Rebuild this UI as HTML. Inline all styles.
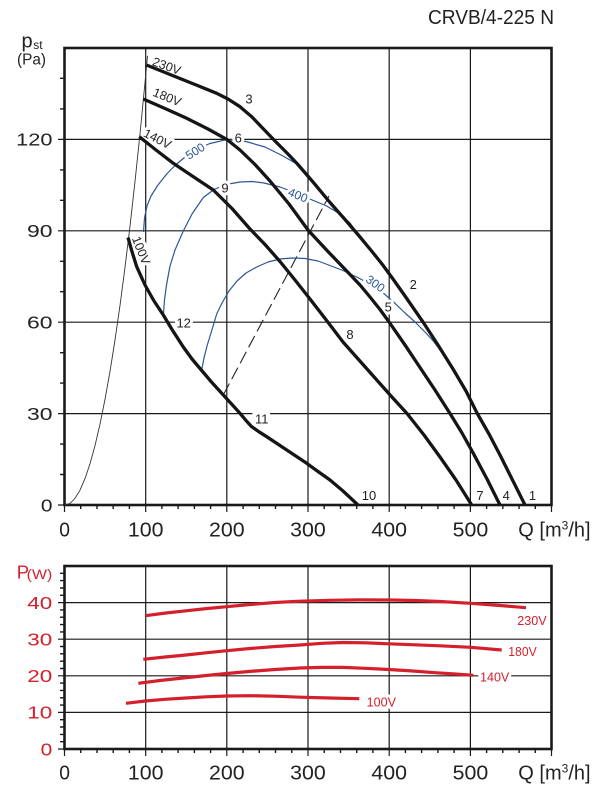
<!DOCTYPE html>
<html><head><meta charset="utf-8"><style>
html,body{margin:0;padding:0;background:#fff;}
svg{display:block;font-family:"Liberation Sans",Arial,sans-serif;}
.g{stroke:#1a1a1a;stroke-width:1.2;fill:none;}
.t{stroke:#1a1a1a;stroke-width:1.4;fill:none;}
.b{stroke:#1a1a1a;stroke-width:2.6;fill:none;}
.k{stroke:#151515;stroke-width:3.3;fill:none;stroke-linejoin:round;stroke-linecap:butt;}
.bl{stroke:#2d5597;stroke-width:1.2;fill:none;stroke-linejoin:round;}
.r{stroke:#d4202c;stroke-width:3.2;fill:none;stroke-linejoin:round;}
.h{paint-order:stroke;stroke:#fff;stroke-width:6px;stroke-linejoin:round;}
.n{font-size:13px;fill:#222;}
.tx{fill:#222;}
.rd{fill:#d4202c;}
</style></head><body>
<svg width="605" height="796" viewBox="0 0 605 796">
<!-- title -->
<text x="428" y="24" font-size="20" class="tx" textLength="126" lengthAdjust="spacingAndGlyphs">CRVB/4-225 N</text>

<!-- ===== TOP CHART ===== -->
<!-- gridlines -->
<path class="g" d="M145.7,48V512 M226.8,48V512 M308,48V512 M389.2,48V512 M470.4,48V512 M64.5,505V512 M551.5,505V512
M58,139.4H551.5 M58,230.8H551.5 M58,322.2H551.5 M58,413.6H551.5 M58,505H64.5"/>
<!-- minor ticks -->
<path class="t" d="M80.7,505v4 M97,505v4 M113.2,505v4 M129.4,505v4 M161.9,505v4 M178.1,505v4 M194.4,505v4 M210.6,505v4 M243.1,505v4 M259.3,505v4 M275.5,505v4 M291.8,505v4 M324.2,505v4 M340.5,505v4 M356.7,505v4 M372.9,505v4 M405.4,505v4 M421.6,505v4 M437.9,505v4 M454.1,505v4 M486.6,505v4 M502.8,505v4 M519.1,505v4 M535.3,505v4
M60,474.5h4.5 M60,444.1h4.5 M60,383.1h4.5 M60,352.7h4.5 M60,291.7h4.5 M60,261.3h4.5 M60,200.3h4.5 M60,169.9h4.5 M60,108.9h4.5 M60,78.3h4.5"/>
<rect class="b" x="64.5" y="48" width="487" height="457"/>

<!-- y labels -->
<text x="16.2" y="145.7" font-size="17.5" class="tx" textLength="36.3" lengthAdjust="spacingAndGlyphs">120</text>
<text x="27" y="237.1" font-size="17.5" class="tx" textLength="25.5" lengthAdjust="spacingAndGlyphs">90</text>
<text x="27" y="328.5" font-size="17.5" class="tx" textLength="25.5" lengthAdjust="spacingAndGlyphs">60</text>
<text x="27" y="419.9" font-size="17.5" class="tx" textLength="25.5" lengthAdjust="spacingAndGlyphs">30</text>
<text x="40.9" y="511.3" font-size="17.5" class="tx" textLength="11.6" lengthAdjust="spacingAndGlyphs">0</text>
<!-- axis title -->
<text x="21.5" y="47.5" font-size="20" class="tx">p</text>
<text x="33.3" y="49" font-size="12" class="tx">st</text>
<text x="17" y="64.5" font-size="16" class="tx" textLength="29" lengthAdjust="spacingAndGlyphs">(Pa)</text>
<!-- x labels -->
<text x="59.2" y="536.5" font-size="20" class="tx" textLength="10.7" lengthAdjust="spacingAndGlyphs">0</text>
<text x="127.9" y="536.5" font-size="20" class="tx" textLength="35.6" lengthAdjust="spacingAndGlyphs">100</text>
<text x="209" y="536.5" font-size="20" class="tx" textLength="35.6" lengthAdjust="spacingAndGlyphs">200</text>
<text x="290.2" y="536.5" font-size="20" class="tx" textLength="35.6" lengthAdjust="spacingAndGlyphs">300</text>
<text x="371.4" y="536.5" font-size="20" class="tx" textLength="35.6" lengthAdjust="spacingAndGlyphs">400</text>
<text x="452.6" y="536.5" font-size="20" class="tx" textLength="35.6" lengthAdjust="spacingAndGlyphs">500</text>
<text x="518.3" y="536.5" font-size="20" class="tx">Q [m<tspan font-size="12" dy="-7">3</tspan><tspan dy="7">/h]</tspan></text>

<!-- thin boundary line -->
<polyline fill="none" stroke="#333" stroke-width="0.9" points="65,505 70,503.4 75,498.4 80,490.2 85,478.6 90,463.8 95,445.6 100,424.2 105,399.4 110,371.4 115,340 120,305.4 125,267.4 130,226.2 135,181.6 140,133.8 145,82.6 147.5,55.8"/>
<!-- dashed -->
<path d="M223.3,395 L329,196" stroke="#222" stroke-width="1.1" stroke-dasharray="13 5" fill="none"/>

<!-- blue contours -->
<polyline class="bl" points="143.5,232 144.5,218 147,206 151,196 158,185 166.7,174 176,164.5 187,155.5 198,148.5 210,143.5 226.8,139.6 246,141.5 265,147 282,155.5 297,164"/>
<polyline class="bl" points="163.3,316 164.5,300 166.5,285 170,266 175,250 183.3,231 192,214 203.3,197.5 214,189.5 226,184.5 240,182 252,181.5 264,183 280,187 296,193 311,199.5 326.7,206 340,214 350,223 360,237"/>
<polyline class="bl" points="201.7,370 204,358 207,346 211,333 216.7,314 222,303 229,291 237,281 246,273 256.7,267 268,262 280,259 292,258 305,258.5 318,261 330,265.5 343,270.5 356.7,277 370,284 382,292 393.3,301.7 405,313 415,322 425,332 433.3,341 443,354 453.3,370"/>

<!-- labels with halos -->
<g class="h" font-size="12" fill="#2d5597">
<text transform="translate(195,151) rotate(-32)" y="4.3" text-anchor="middle">500</text>
<text transform="translate(298,195) rotate(22)" y="4.3" text-anchor="middle">400</text>
<text transform="translate(375.5,283.5) rotate(35)" y="4.3" text-anchor="middle">300</text>
</g>
<g class="h n" text-anchor="middle">
<text x="532.5" y="500">1</text>
<text x="506.3" y="500">4</text>
<text x="480" y="500">7</text>
<text x="369" y="500">10</text>
<text x="413.3" y="289">2</text>
<text x="388.3" y="311.5">5</text>
<text x="350" y="339">8</text>
<text x="249" y="103.5">3</text>
<text x="238.3" y="142.5">6</text>
<text x="225" y="192.5">9</text>
<text x="183.7" y="327.5">12</text>
<text x="261.7" y="423.3" style="stroke-width:9px">11</text>
</g>
<g class="h" font-size="12.5" fill="#222">
<text transform="translate(151.5,65) rotate(20)">230V</text>
<text transform="translate(152,95.5) rotate(22)">180V</text>
<text transform="translate(142.5,136) rotate(27)">140V</text>
<text transform="translate(131.7,238.4) rotate(68)">100V</text>
</g>

<!-- thick fan curves -->
<polyline class="k" points="146.5,65 170,74.5 195,84.5 216.7,93.3 228,99 240,106.7 252,117 263,128.5 275,141 287,153 297,163.5 313,182 330,202.5 345,219.5 360,237 372,251.5 382,264 393,279 405,296 423,322 438,345 453,369 466,391 477,413 489,434 500,455 512,479 525,505"/>
<polyline class="k" points="143.3,99 165,108.5 186.7,118.3 208,129 226.8,139.4 240,150 255,164.5 270,181 289,204 308,230 327,250.5 346.7,271 360,285 370,297 380,309.5 389.2,322.2 405,345 420,367.5 435,390 450,413.5 462,433 473.3,453.3 487,479 500,505"/>
<polyline class="k" points="139.3,136.7 156,150 173.3,163.3 193,176.5 213.3,190 232,208.5 250,229 265,244.5 280,261.5 295,280 310,299 327,321 343,342 359,360 375,378 391,396 407,413.5 424,435 440,457 456,480 471.7,505"/>
<polyline class="k" points="128,237.5 131.5,250 136.7,266.7 145,285 154,301 163.3,315 172,329.5 183.3,347 192,359 200,368.5 211,381.5 223.3,395 232,404.5 240,413.3 246,420.5 251.7,426.7 259,431.8 266.7,436.7 286,449.5 306.7,463.3 318,471.5 330,480 343,491 358,505"/>

<!-- ===== BOTTOM CHART ===== -->
<path class="g" d="M145.7,566V756 M226.8,566V756 M308,566V756 M389.2,566V756 M470.4,566V756 M64.5,749V756 M551.5,749V756
M58,712.4H551.5 M58,675.8H551.5 M58,639.2H551.5 M58,602.6H551.5 M58,749H64.5"/>
<path class="t" d="M80.7,749v4 M97,749v4 M113.2,749v4 M129.4,749v4 M161.9,749v4 M178.1,749v4 M194.4,749v4 M210.6,749v4 M243.1,749v4 M259.3,749v4 M275.5,749v4 M291.8,749v4 M324.2,749v4 M340.5,749v4 M356.7,749v4 M372.9,749v4 M405.4,749v4 M421.6,749v4 M437.9,749v4 M454.1,749v4 M486.6,749v4 M502.8,749v4 M519.1,749v4 M535.3,749v4
M60,741.7h4.5 M60,734.4h4.5 M60,727h4.5 M60,719.7h4.5 M60,705.1h4.5 M60,697.8h4.5 M60,690.4h4.5 M60,683.1h4.5 M60,668.5h4.5 M60,661.2h4.5 M60,653.8h4.5 M60,646.5h4.5 M60,631.9h4.5 M60,624.6h4.5 M60,617.2h4.5 M60,609.9h4.5 M60,595.3h4.5 M60,588h4.5 M60,580.6h4.5 M60,573.3h4.5"/>
<rect class="b" x="64.5" y="566" width="487" height="183"/>

<!-- y labels red -->
<text x="16.7" y="578.5" font-size="18.5" class="rd">P</text>
<text x="26.7" y="578.8" font-size="14" class="rd" textLength="25.6" lengthAdjust="spacingAndGlyphs">(W)</text>
<text x="27.3" y="608.9" font-size="17.5" class="rd" textLength="25" lengthAdjust="spacingAndGlyphs">40</text>
<text x="27.3" y="645.5" font-size="17.5" class="rd" textLength="25" lengthAdjust="spacingAndGlyphs">30</text>
<text x="27.3" y="682.1" font-size="17.5" class="rd" textLength="25" lengthAdjust="spacingAndGlyphs">20</text>
<text x="27.3" y="718.7" font-size="17.5" class="rd" textLength="25" lengthAdjust="spacingAndGlyphs">10</text>
<text x="40.7" y="755.3" font-size="17.5" class="rd" textLength="11.6" lengthAdjust="spacingAndGlyphs">0</text>
<!-- x labels -->
<text x="59.2" y="779.5" font-size="20" class="tx" textLength="10.7" lengthAdjust="spacingAndGlyphs">0</text>
<text x="127.9" y="779.5" font-size="20" class="tx" textLength="35.6" lengthAdjust="spacingAndGlyphs">100</text>
<text x="209" y="779.5" font-size="20" class="tx" textLength="35.6" lengthAdjust="spacingAndGlyphs">200</text>
<text x="290.2" y="779.5" font-size="20" class="tx" textLength="35.6" lengthAdjust="spacingAndGlyphs">300</text>
<text x="371.4" y="779.5" font-size="20" class="tx" textLength="35.6" lengthAdjust="spacingAndGlyphs">400</text>
<text x="452.6" y="779.5" font-size="20" class="tx" textLength="35.6" lengthAdjust="spacingAndGlyphs">500</text>
<text x="518.3" y="779.5" font-size="20" class="tx">Q [m<tspan font-size="12" dy="-7">3</tspan><tspan dy="7">/h]</tspan></text>

<!-- red labels -->
<g class="h rd" font-size="12.5">
<text x="517.3" y="625" textLength="29.4" lengthAdjust="spacingAndGlyphs">230V</text>
<text x="508.3" y="656" textLength="28.4" lengthAdjust="spacingAndGlyphs">180V</text>
<text x="480" y="681.5" textLength="29.3" lengthAdjust="spacingAndGlyphs">140V</text>
<text x="366.7" y="706.5" textLength="29.3" lengthAdjust="spacingAndGlyphs">100V</text>
</g>
<!-- red curves -->
<polyline class="r" points="145.3,615.7 166,613 186,610.8 206,608.6 226.7,606.7 250,604.5 275,602.5 300,601.2 330,600.3 360,599.9 390,600 415,600.5 440,601.5 470.7,603.3 500,605.5 526,607.7"/>
<polyline class="r" points="143.3,659.3 165,657 186,655 206,652.8 226.7,650.7 250,648.5 275,646.5 300,645 322,643.3 343,642.5 365,642.8 389,643.8 415,644.8 440,645.8 470.7,647.3 501.7,650"/>
<polyline class="r" points="138.3,683.3 160,680.5 183,678 205,675.6 226.7,673.5 250,671.4 275,669.5 300,668 322,667.4 343,667.4 365,668.3 389,669.5 413,671 436.7,672.8 455,674 473.3,675.3"/>
<polyline class="r" points="126,703.3 145.3,701 165,699.3 186,698 206,696.8 226.7,696 250,695.7 275,696.2 300,697.2 330,698 359.3,698.7"/>
</svg>
</body></html>
